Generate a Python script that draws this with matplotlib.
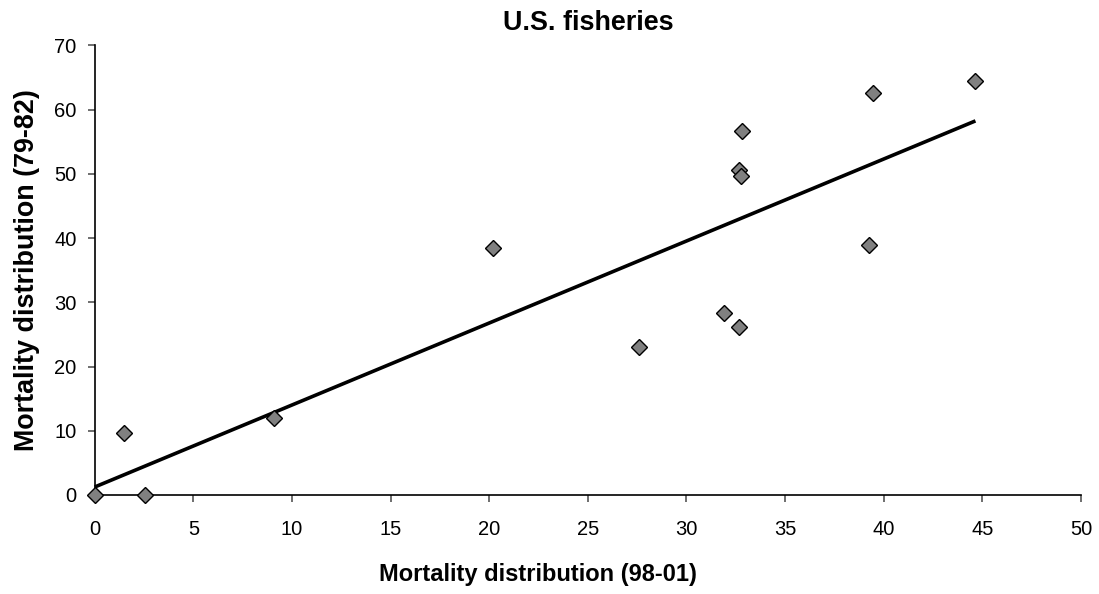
import numpy as np
import matplotlib.pyplot as plt

plt.rcParams['font.family'] = ['Liberation Sans', 'DejaVu Sans']

# Mortality distribution, 1998-2001 (x) vs 1979-1982 (y)
mort_98_01 = [0.0, 1.5, 2.55, 9.07, 20.19, 27.6, 31.9, 32.67, 32.67, 32.77,
              32.84, 39.23, 39.46, 44.65]
mort_79_82 = [0.0, 9.6, 0.0, 12.0, 38.45, 23.1, 28.4, 26.2, 50.6, 49.6,
              56.6, 38.9, 62.6, 64.4]

x_ticks = list(range(0, 51, 5))
y_ticks = list(range(0, 71, 10))


def main():
    fig = plt.figure(figsize=(10.99, 5.94), dpi=100)
    ax = fig.add_axes([0.0862, 0.1667, 0.8974, 0.757])

    x = np.array(mort_98_01)
    y = np.array(mort_79_82)

    # linear trendline over the data range
    slope, intercept = np.polyfit(x, y, 1)
    xs = np.array([x.min(), x.max()])
    ax.plot(xs, slope * xs + intercept, color='black', linewidth=2.6,
            solid_capstyle='butt', zorder=2, clip_on=False)

    ax.plot(x, y, linestyle='none', marker='D', markersize=7.8,
            markerfacecolor='#808080', markeredgecolor='black',
            markeredgewidth=1.0, zorder=3, clip_on=False)

    ax.set_xlim(0, 50)
    ax.set_ylim(0, 70)
    ax.set_xticks(x_ticks)
    ax.set_yticks(y_ticks)
    ax.tick_params(direction='out', length=5, width=1.2, labelsize=14.5,
                   color='#555555')
    ax.tick_params(axis='y', pad=8)
    ax.tick_params(axis='x', pad=13)

    for side in ('top', 'right'):
        ax.spines[side].set_visible(False)
    for side in ('left', 'bottom'):
        ax.spines[side].set_linewidth(1.2)
        ax.spines[side].set_color('black')

    ax.set_title("U.S. fisheries", fontsize=19.4, fontweight='bold', pad=11)
    ax.set_xlabel("Mortality distribution (98-01)", fontsize=17,
                  fontweight='bold')
    ax.xaxis.set_label_coords(0.449, -0.151)
    ax.xaxis.label.set_verticalalignment('top')
    ax.set_ylabel("Mortality distribution (79-82)", fontsize=19.4,
                  fontweight='bold', labelpad=10)

    fig.savefig("out.png", dpi=100)


if __name__ == "__main__":
    main()
